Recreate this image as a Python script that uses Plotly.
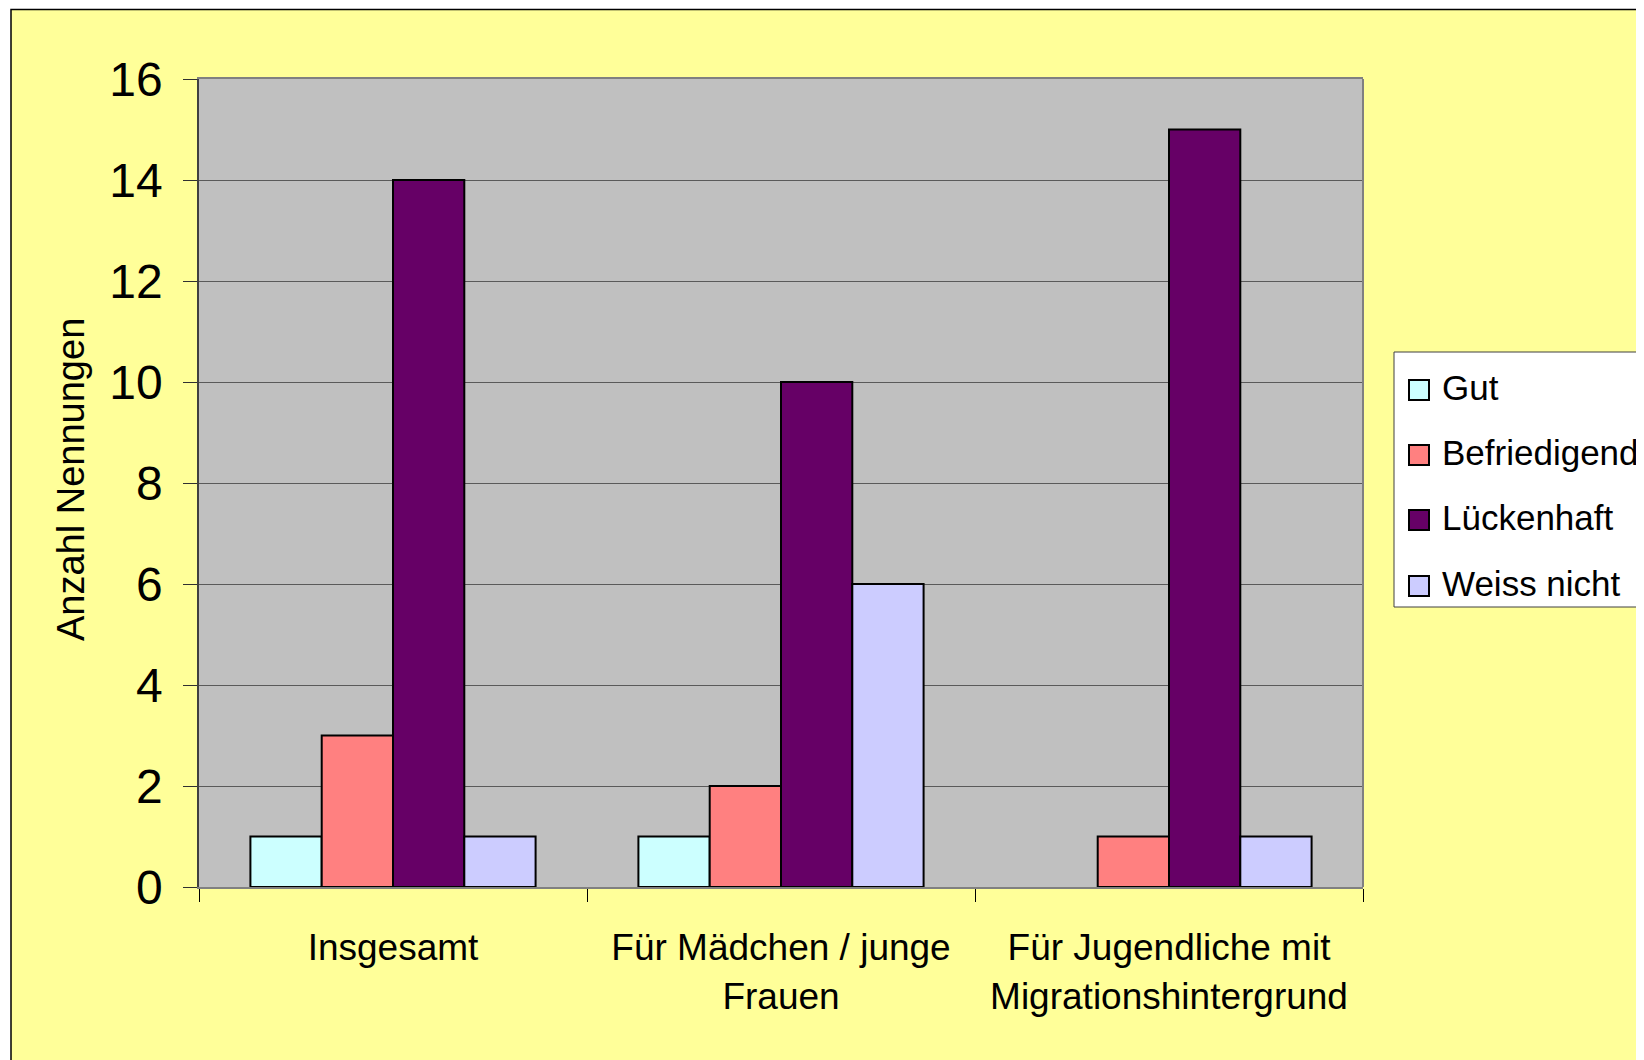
import plotly.graph_objects as go

categories = ["Insgesamt", "Für Mädchen / junge<br>Frauen", "Für Jugendliche mit<br>Migrationshintergrund"]
series_names = ["Gut", "Befriedigend", "Lückenhaft", "Weiss nicht"]
gut = [1, 1, 0]
befriedigend = [3, 2, 1]
lueckenhaft = [14, 10, 15]
weiss_nicht = [1, 6, 1]
series_values = [gut, befriedigend, lueckenhaft, weiss_nicht]
series_colors = ["#CCFFFF", "#FF8080", "#660066", "#CCCCFF"]
y_tick_values = [0, 2, 4, 6, 8, 10, 12, 14, 16]

W, H = 1644, 1060
OFF = 8  # page body margin
# plot area in page pixel coordinates
L, R, T, B = 199, 1363, 79, 887
PW, PH = R - L, B - T


def px(x):
    return (x - L) / PW


def py(y):
    return (B - y) / PH


FONT = "Liberation Sans, Arial, sans-serif"

fig = go.Figure()
for name, vals, col in zip(series_names, series_values, series_colors):
    fig.add_trace(go.Bar(
        x=categories,
        y=[v if v != 0 else None for v in vals],
        name=name,
        marker=dict(color=col, line=dict(color="black", width=2)),
        showlegend=False,
    ))

shapes = []
annotations = []
# white strips + black border of the yellow chart area
shapes.append(dict(type="rect", xref="paper", yref="paper", x0=px(-5), x1=px(W + 5), y0=py(-5), y1=py(9),
                   fillcolor="white", line=dict(width=0), layer="above"))
shapes.append(dict(type="rect", xref="paper", yref="paper", x0=px(-5), x1=px(11), y0=py(-5), y1=py(H + 5),
                   fillcolor="white", line=dict(width=0), layer="above"))
shapes.append(dict(type="rect", xref="paper", yref="paper", x0=px(11), x1=px(W + 200), y0=py(9.5), y1=py(H + 200),
                   fillcolor="rgba(0,0,0,0)", line=dict(color="black", width=1.5), layer="above"))
# right border of plot area
shapes.append(dict(type="line", xref="paper", yref="paper", x0=1, x1=1, y0=0, y1=1,
                   line=dict(color="#808080", width=2), layer="above"))

# manual legend
shapes.append(dict(type="rect", xref="paper", yref="paper", x0=px(1394), x1=px(W + 200), y0=py(352), y1=py(607),
                   fillcolor="white", line=dict(color="#404040", width=1), layer="above"))
legend_y = [390, 455, 520, 586]
for name, col, cy in zip(series_names, series_colors, legend_y):
    shapes.append(dict(type="rect", xref="paper", yref="paper", x0=px(1409), x1=px(1429), y0=py(cy - 10), y1=py(cy + 10),
                       fillcolor=col, line=dict(color="black", width=2), layer="above"))
    annotations.append(dict(xref="paper", yref="paper", x=px(1440), y=py(cy - 3), text=name, showarrow=False,
                            xanchor="left", yanchor="middle", font=dict(family=FONT, size=35, color="black")))

# y-axis title
annotations.append(dict(xref="paper", yref="paper", x=px(71), y=py(480), text="Anzahl Nennungen", showarrow=False,
                        textangle=-90, xanchor="center", yanchor="middle",
                        font=dict(family=FONT, size=38, color="black")))

fig.update_layout(
    width=W, height=H,
    margin=dict(l=L - OFF, r=W - (R - OFF), t=T - OFF, b=H - (B - OFF), pad=0),
    paper_bgcolor="#FFFF99",
    plot_bgcolor="#C0C0C0",
    barmode="group",
    bargap=0.265,
    bargroupgap=0,
    showlegend=False,
    shapes=shapes,
    annotations=annotations,
    font=dict(family=FONT, color="black"),
    xaxis=dict(
        type="category",
        showline=True, linecolor="#808080", linewidth=2, mirror=True,
        ticks="outside", tickson="boundaries", ticklen=13, tickcolor="black", tickwidth=1,
        tickfont=dict(family=FONT, size=37, color="black"),
        ticklabelstandoff=27,
        showgrid=False,
    ),
    yaxis=dict(
        range=[0, 16],
        tickvals=y_tick_values,
        showline=True, linecolor="#404040", linewidth=1.5,
        ticks="outside", ticklen=14, tickcolor="#303030", tickwidth=1,
        tickfont=dict(family=FONT, size=48, color="black"),
        ticklabelstandoff=11,
        showgrid=True, gridcolor="#5a5a5a", gridwidth=1,
        zeroline=False,
    ),
)

fig.write_html("out.html")
